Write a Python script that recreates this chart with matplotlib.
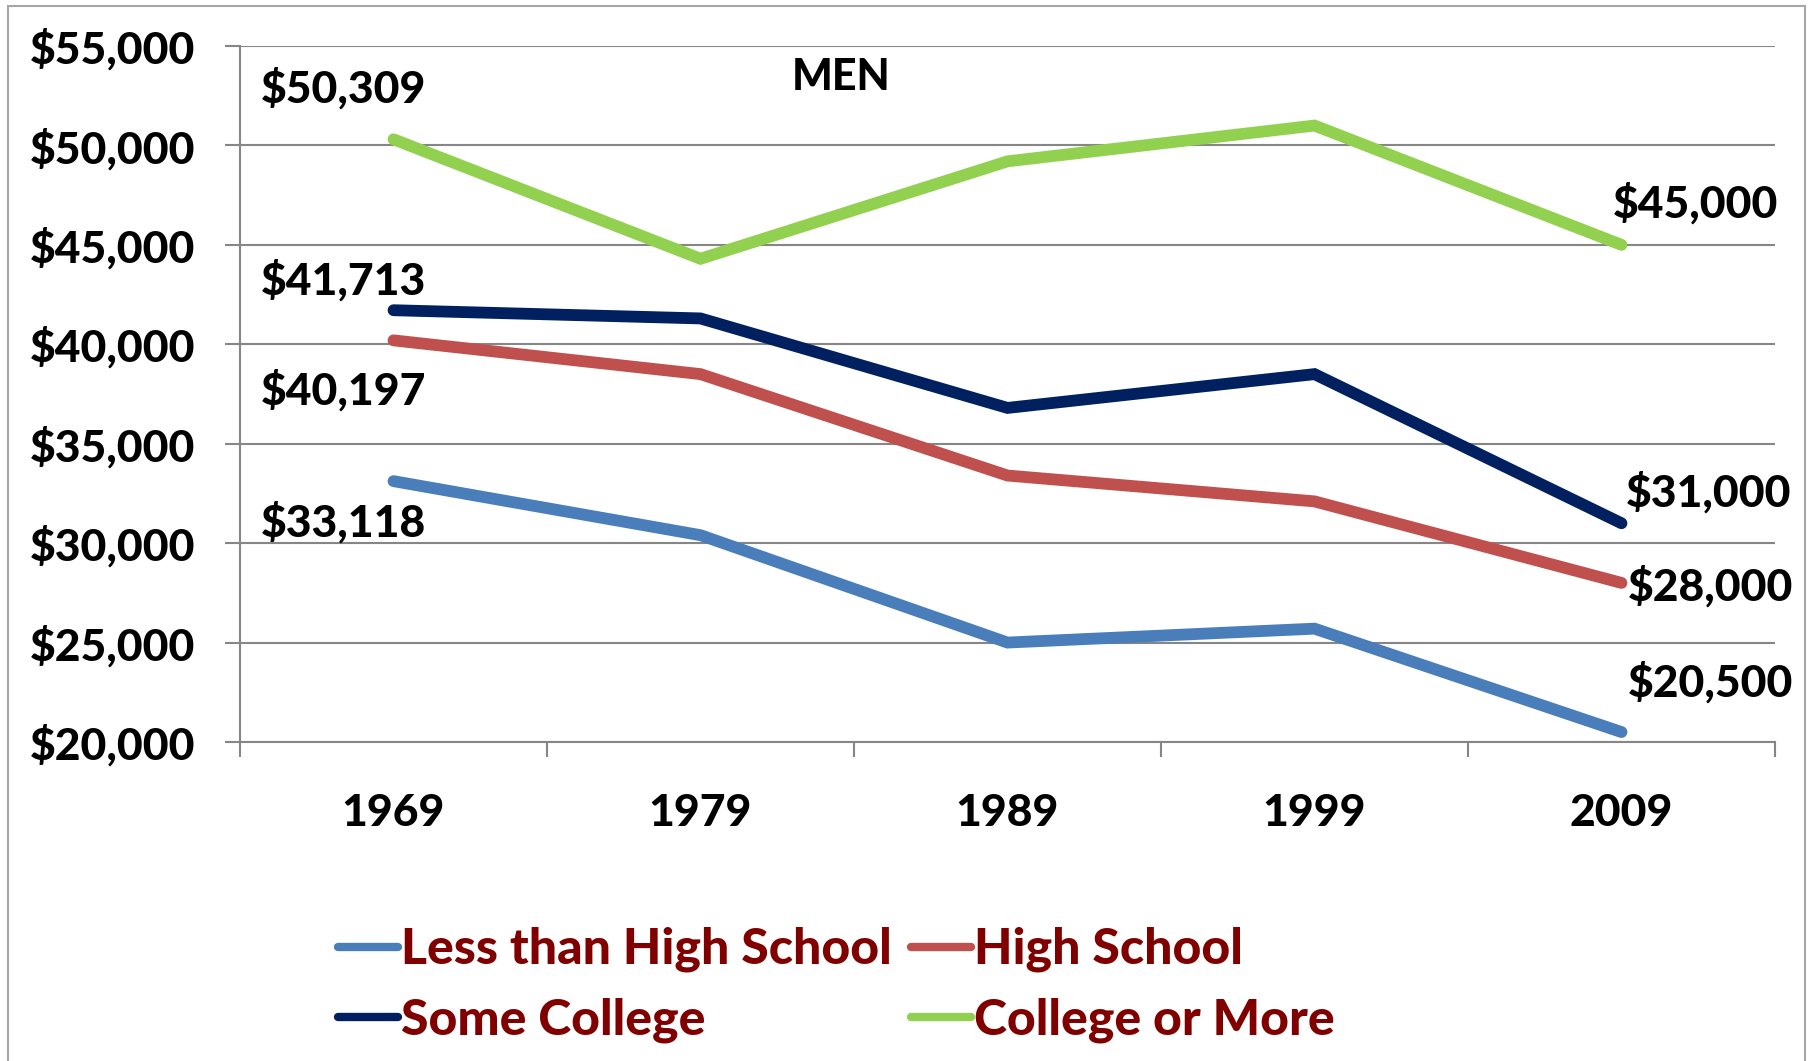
import matplotlib
matplotlib.use('Agg')
import matplotlib.pyplot as plt
from matplotlib.patches import Rectangle

plt.rcParams['font.family'] = ['Lato', 'DejaVu Sans']
plt.rcParams['font.weight'] = 900

# data (median earnings, men)
years = ['1969', '1979', '1989', '1999', '2009']
less_than_hs = [33118, 30400, 25000, 25700, 20500]
high_school = [40197, 38500, 33400, 32100, 28000]
some_college = [41713, 41300, 36800, 38500, 31000]
college_more = [50309, 44300, 49200, 51000, 45000]

series_names = ['Less than High School', 'High School', 'Some College', 'College or More']
series_colors = ['#4A7EBB', '#C0504D', '#002060', '#92D050']

# labels at first / last points: (series index, year index, text, dx px, dy px)
point_labels = [
    (3, 0, '$50,309', -133, 51),
    (2, 0, '$41,713', -133, 30),
    (1, 0, '$40,197', -133, -50),
    (0, 0, '$33,118', -133, -41),
    (3, 4, '$45,000', -9, 42),
    (2, 4, '$31,000', 4, 31),
    (1, 4, '$28,000', 6, -3),
    (0, 4, '$20,500', 6, 50),
]

yticks = [20000, 25000, 30000, 35000, 40000, 45000, 50000, 55000]
ytick_labels = ['${:,}'.format(v) for v in yticks]

FS = 32
WT = 900
W, H = 1810, 1061
fig = plt.figure(figsize=(W / 100, H / 100), dpi=100)
fig.patch.set_facecolor('white')
fig.add_artist(Rectangle((8 / W, -0.01), (1805 - 8) / W, 1 - 6 / H + 0.01,
                         transform=fig.transFigure, fill=False,
                         edgecolor='#A6A6A6', linewidth=1.5))

ax = fig.add_axes([240 / W, 1 - 742 / H, (1775 - 240) / W, (742 - 46) / H])

all_series = [less_than_hs, high_school, some_college, college_more]
x = list(range(len(years)))
lines = []
for vals, name, col in zip(all_series, series_names, series_colors):
    ln, = ax.plot(x, vals, color=col, linewidth=8.5, solid_capstyle='round',
                  solid_joinstyle='miter', label=name, zorder=3)
    lines.append(ln)

ax.set_xlim(-0.5, len(years) - 0.5)
ax.set_ylim(20000, 55000)
ax.set_yticks(yticks)
ax.set_yticklabels(ytick_labels)
ax.set_xticks([i - 0.5 for i in range(len(years) + 1)], minor=False)
ax.set_xticklabels([])
ax.set_xticks(x, minor=True)
ax.set_xticklabels(years, minor=True)

grid_col = '#868686'
ax.yaxis.grid(True, color=grid_col, linewidth=1.5)
ax.set_axisbelow(True)
for s in ['top', 'right']:
    ax.spines[s].set_visible(False)
for s in ['left', 'bottom']:
    ax.spines[s].set_color(grid_col)
    ax.spines[s].set_linewidth(1.5)

ax.tick_params(axis='y', which='major', direction='out', length=11, width=1.5,
               color=grid_col, pad=21, labelsize=FS)
ax.tick_params(axis='x', which='major', direction='out', length=11, width=1.5,
               color=grid_col)
ax.tick_params(axis='x', which='minor', length=0, pad=37, labelsize=FS)
for t in ax.get_yticklabels() + ax.get_xticklabels(minor=True):
    t.set_fontweight(WT)

for si, yi, txt, dx, dy in point_labels:
    ax.annotate(txt, xy=(x[yi], all_series[si][yi]), xytext=(dx * 0.72, dy * 0.72),
                textcoords='offset points', ha='left', va='center',
                fontsize=FS, fontweight=WT, color='black')

ax.text(0.3915, 0.955, 'MEN', transform=ax.transAxes, ha='center', va='center',
        fontsize=31, fontweight=WT)

order = [0, 2, 1, 3]
leg = fig.legend([lines[i] for i in order], [series_names[i] for i in order],
                 ncol=2, loc='upper left', bbox_to_anchor=(338 / W, 1 - 927 / H),
                 frameon=False, fontsize=36, handlelength=1.2, handletextpad=0.05,
                 columnspacing=0.4, labelspacing=0.5, borderaxespad=0, borderpad=0)
for t in leg.get_texts():
    t.set_color('#800000')
    t.set_fontweight(WT)
for h in leg.legend_handles:
    h.set_linewidth(6)
    h.set_solid_capstyle('round')

fig.savefig('out.png', dpi=100)
